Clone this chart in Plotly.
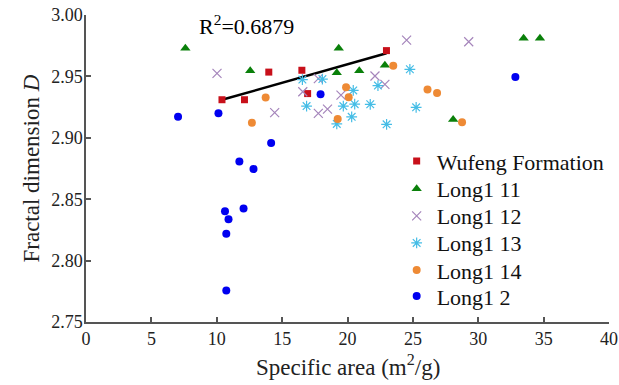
import numpy as np
import plotly.graph_objects as go

# ---- data ----
wufeng_x = [10.40, 12.12, 13.98, 16.51, 16.95, 22.98]
wufeng_y = [2.931, 2.931, 2.9535, 2.955, 2.936, 2.971]

l11_x = [7.60, 12.56, 19.33, 19.18, 20.90, 22.86, 28.08, 33.47, 34.72]
l11_y = [2.9729, 2.9546, 2.9729, 2.953, 2.9546, 2.959, 2.915, 2.981, 2.981]

l12_x = [10.02, 14.43, 16.58, 17.77, 17.77, 18.47, 19.50, 22.10, 22.86, 24.52, 29.27]
l12_y = [2.9525, 2.9205, 2.9375, 2.9482, 2.9199, 2.9234, 2.9348, 2.9503, 2.9435, 2.9796, 2.9782]

l13_x = [16.55, 18.08, 16.87, 19.18, 20.44, 19.68, 20.55, 20.32, 21.74, 22.33, 24.77, 25.25, 22.99]
l13_y = [2.9474, 2.9478, 2.9258, 2.9113, 2.9386, 2.9258, 2.9274, 2.9171, 2.9273, 2.9425, 2.9558, 2.9248, 2.911]

l14_x = [13.74, 12.69, 19.89, 20.09, 19.25, 23.50, 26.12, 26.85, 28.76]
l14_y = [2.9329, 2.9122, 2.9411, 2.9331, 2.9154, 2.9587, 2.9394, 2.9364, 2.9126]

l2_x = [7.04, 10.13, 14.16, 11.73, 12.81, 17.94, 10.63, 10.90, 12.05, 10.73, 10.73, 32.84]
l2_y = [2.9171, 2.9199, 2.8958, 2.8808, 2.8746, 2.9354, 2.8402, 2.8337, 2.8424, 2.8219, 2.7757, 2.9495]

series_names = ["Wufeng Formation", "Long1 11", "Long1 12", "Long1 13", "Long1 14", "Long1 2"]
x_ticks = [0, 5, 10, 15, 20, 25, 30, 35, 40]
y_ticks = [2.75, 2.80, 2.85, 2.90, 2.95, 3.00]
r2_text = "R<sup>2</sup>=0.6879"
x_title = "Specific area (m<sup>2</sup>/g)"
y_title = "Fractal dimension <i>D</i>"

FONT = "Liberation Serif"

series = [
    (wufeng_x, wufeng_y, dict(symbol="square", size=7, color="#c8101a")),
    (l11_x, l11_y, dict(symbol="triangle-up", size=9, color="#0a800a")),
    (l12_x, l12_y, dict(symbol="x-thin-open", size=9, color="#a585bb",
                        line=dict(color="#a585bb", width=1.2))),
    (l13_x, l13_y, dict(symbol="asterisk-open", size=9, color="#45bde6",
                        line=dict(color="#45bde6", width=1.2))),
    (l14_x, l14_y, dict(symbol="circle", size=8, color="#ee8a35")),
    (l2_x, l2_y, dict(symbol="circle", size=8, color="#0000f0")),
]
# legend row centres (paper fraction of plot height)
legend_rows = [0.524, 0.433, 0.345, 0.257, 0.169, 0.084]

fig = go.Figure()

# regression line for Wufeng
coef = np.polyfit(wufeng_x, wufeng_y, 1)
lx = np.array([min(wufeng_x), max(wufeng_x)])
fig.add_trace(go.Scatter(x=lx, y=np.polyval(coef, lx), mode="lines",
                         line=dict(color="black", width=2.5), showlegend=False,
                         hoverinfo="skip"))

legend_layout = {}
for i, ((sx, sy, mk), name) in enumerate(zip(series, series_names)):
    lname = "legend" if i == 0 else f"legend{i + 1}"
    fig.add_trace(go.Scatter(x=sx, y=sy, mode="markers", name=name, marker=mk,
                             legend=lname))
    legend_layout[lname] = dict(x=0.594, y=legend_rows[i], xanchor="left", yanchor="middle",
                                bgcolor="rgba(0,0,0,0)",
                                font=dict(family=FONT, size=22, color="#111"),
                                itemsizing="trace")

fig.add_annotation(x=12.25, y=2.9918, xref="x", yref="y", text=r2_text,
                   showarrow=False, font=dict(family=FONT, size=22, color="black"))

# axis titles as paper-anchored annotations
fig.add_annotation(x=0.5, y=0, xref="paper", yref="paper", yshift=-43,
                   xanchor="center", yanchor="middle", text=x_title, showarrow=False,
                   font=dict(family=FONT, size=23, color="#222"))
fig.add_annotation(x=0, y=0.5, xref="paper", yref="paper", xshift=-55,
                   xanchor="center", yanchor="middle", text=y_title, showarrow=False,
                   textangle=-90, font=dict(family=FONT, size=23, color="#222"))

fig.update_layout(
    width=619, height=385,
    margin=dict(l=85.5, r=9.5, t=15, b=63.3, autoexpand=False),
    paper_bgcolor="white", plot_bgcolor="white",
    font=dict(family=FONT, size=16, color="#222"),
    showlegend=True,
    **legend_layout,
)
fig.update_xaxes(range=[0, 40], tickvals=x_ticks, ticktext=[str(v) for v in x_ticks],
                 automargin=False,
                 showgrid=False, zeroline=False, showline=True, linecolor="#555", linewidth=1.5,
                 ticks="inside", ticklen=5, tickcolor="#555", tickwidth=1.5,
                 tickfont=dict(family=FONT, size=18, color="#222"))
fig.update_yaxes(range=[2.75, 3.00], tickvals=y_ticks, ticktext=[f"{v:.2f}" for v in y_ticks],
                 automargin=False, ticklabelstandoff=-2,
                 showgrid=False, zeroline=False, showline=True, linecolor="#555", linewidth=1.5,
                 ticks="inside", ticklen=5, tickcolor="#555", tickwidth=1.5,
                 tickfont=dict(family=FONT, size=18, color="#222"))

fig.write_html("out.html", config={"displayModeBar": False},
               post_script="document.body.style.margin='0';document.body.style.overflow='hidden';")
